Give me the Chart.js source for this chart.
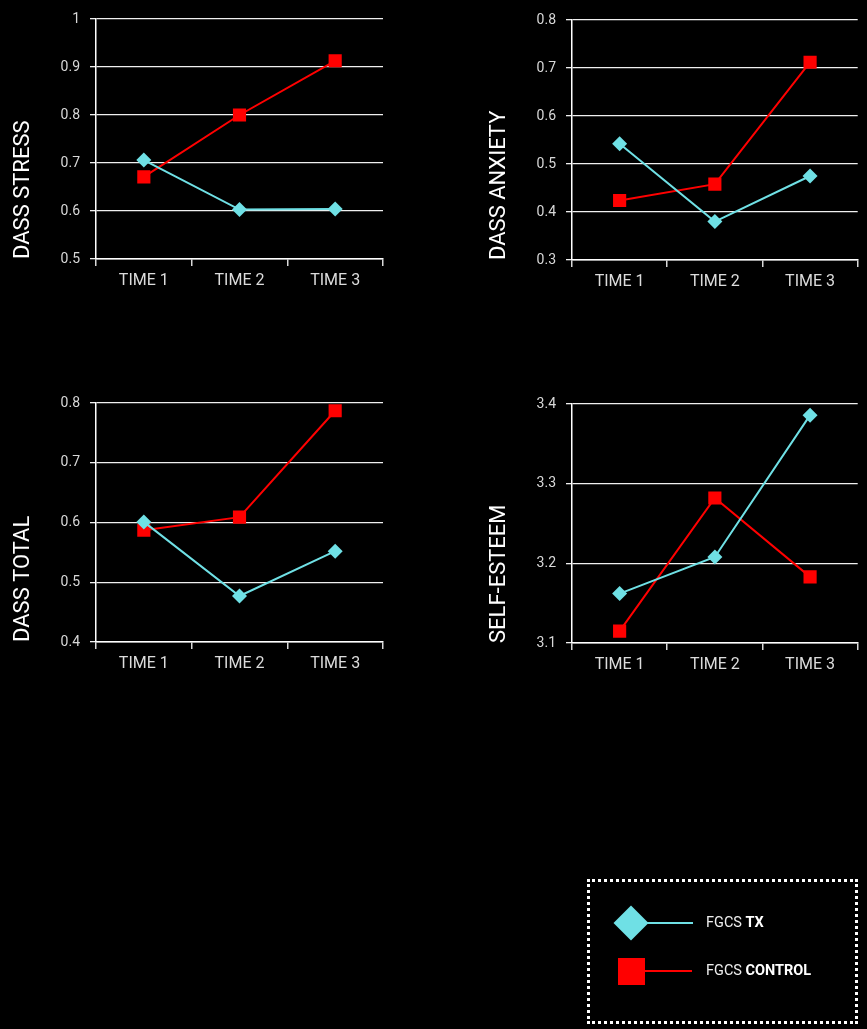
<!DOCTYPE html>
<html>
<head>
<meta charset="utf-8">
<script src="https://cdn.jsdelivr.net/npm/chart.js@4/dist/chart.umd.min.js"></script>
<style>
  html, body { margin:0; padding:0; background:#000; }
  body { width:867px; height:1029px; position:relative; overflow:hidden; font-family: Roboto, "DejaVu Sans", sans-serif; }
  .box { position:absolute; }
  .legend { position:absolute; left:587px; top:879px; width:271px; height:145px; box-sizing:border-box; border:3px dotted #fff; }
  .ltext { position:absolute; color:#eee; font-size:14.5px; font-family: Roboto, sans-serif; line-height:16px; }
  .ltext b { font-weight:700; color:#fff; }
</style>
</head>
<body>
<div class="box" id="b1" style="left:0px;top:0px;width:400px;height:300px;"><canvas id="c1"></canvas></div>
<div class="box" id="b2" style="left:476px;top:1px;width:391px;height:300px;"><canvas id="c2"></canvas></div>
<div class="box" id="b3" style="left:0px;top:384px;width:400px;height:299px;"><canvas id="c3"></canvas></div>
<div class="box" id="b4" style="left:476px;top:385px;width:391px;height:299px;"><canvas id="c4"></canvas></div>

<div class="legend"></div>
<svg style="position:absolute;left:0;top:0" width="867" height="1029">
  <line x1="640" y1="923" x2="693" y2="923" stroke="#6fe0e5" stroke-width="2"/>
  <polygon points="631,905.5 648.5,923 631,940.5 613.5,923" fill="#6fe0e5"/>
  <line x1="640" y1="971" x2="692" y2="971" stroke="#ff0000" stroke-width="2"/>
  <rect x="618" y="958" width="27" height="27" fill="#ff0000"/>
</svg>
<div class="ltext" style="left:706px;top:915px;">FGCS <b>TX</b></div>
<div class="ltext" style="left:706px;top:963px;">FGCS <b>CONTROL</b></div>

<script>
// ---- Data ----
const categories = ["TIME 1", "TIME 2", "TIME 3"];
const seriesNames = ["FGCS TX", "FGCS CONTROL"];

const stressTx      = [0.706, 0.603, 0.604];
const stressControl = [0.671, 0.800, 0.913];
const stressTicks   = [0.5, 0.6, 0.7, 0.8, 0.9, 1];
const stressLabels  = ["0.5", "0.6", "0.7", "0.8", "0.9", "1"];

const anxietyTx      = [0.542, 0.380, 0.475];
const anxietyControl = [0.424, 0.458, 0.712];
const anxietyTicks   = [0.3, 0.4, 0.5, 0.6, 0.7, 0.8];
const anxietyLabels  = ["0.3", "0.4", "0.5", "0.6", "0.7", "0.8"];

const totalTx      = [0.601, 0.477, 0.552];
const totalControl = [0.587, 0.609, 0.787];
const totalTicks   = [0.4, 0.5, 0.6, 0.7, 0.8];
const totalLabels  = ["0.4", "0.5", "0.6", "0.7", "0.8"];

const esteemTx      = [3.162, 3.208, 3.386];
const esteemControl = [3.115, 3.282, 3.183];
const esteemTicks   = [3.1, 3.2, 3.3, 3.4];
const esteemLabels  = ["3.1", "3.2", "3.3", "3.4"];

// ---- Styling ----
const CYAN = "#6fe0e5";
const RED = "#ff0000";
const FONT = "Roboto, 'DejaVu Sans', sans-serif";

function makeChart(id, title, tx, ctrl, ticks, labels, padRight) {
  const min = ticks[0], max = ticks[ticks.length - 1];
  new Chart(document.getElementById(id), {
    type: "line",
    data: {
      labels: categories,
      datasets: [
        { label: seriesNames[0], data: tx, borderColor: CYAN, backgroundColor: CYAN,
          borderWidth: 2, pointStyle: "rectRot", pointRadius: 7.5, pointBorderWidth: 0, tension: 0 },
        { label: seriesNames[1], data: ctrl, borderColor: RED, backgroundColor: RED,
          borderWidth: 2, pointStyle: "rect", pointRadius: 9.3, pointBorderWidth: 0, tension: 0 }
      ]
    },
    options: {
      responsive: true,
      maintainAspectRatio: false,
      devicePixelRatio: 1,
      animation: false,
      events: [],
      layout: { padding: { top: 19, bottom: 6, left: 0, right: padRight } },
      plugins: { legend: { display: false }, tooltip: { enabled: false } },
      scales: {
        x: {
          offset: true,
          grid: { offset: true, drawOnChartArea: false, drawTicks: true, tickLength: 7, color: "#d8d8d8", lineWidth: 1.5 },
          border: { display: true, color: "#ffffff", width: 1.5 },
          ticks: { color: "#dcdcdc", font: { family: FONT, size: 16 }, padding: 5, maxRotation: 0 },
          afterFit: s => { s.height = 35; }
        },
        y: {
          min: min, max: max,
          afterBuildTicks: s => { s.ticks = ticks.map(v => ({ value: v })); },
          grid: { color: "#f0f0f0", lineWidth: 1.3, drawTicks: true, tickLength: 6 },
          border: { display: true, color: "#ffffff", width: 1.5 },
          ticks: {
            color: "#d8d8d8", font: { family: FONT, size: 14 }, padding: 10,
            callback: (v, i) => labels[i]
          },
          title: {
            display: true, text: title, color: "#ffffff", align: "start",
            font: { family: FONT, size: 22 }, padding: { top: 10, bottom: 0 }
          },
          afterFit: s => { s.width = 96; }
        }
      }
    }
  });
}

makeChart("c1", "DASS STRESS", stressTx, stressControl, stressTicks, stressLabels, 17);
makeChart("c2", "DASS ANXIETY", anxietyTx, anxietyControl, anxietyTicks, anxietyLabels, 7);
makeChart("c3", "DASS TOTAL", totalTx, totalControl, totalTicks, totalLabels, 17);
makeChart("c4", "SELF-ESTEEM", esteemTx, esteemControl, esteemTicks, esteemLabels, 7);
</script>
</body>
</html>
